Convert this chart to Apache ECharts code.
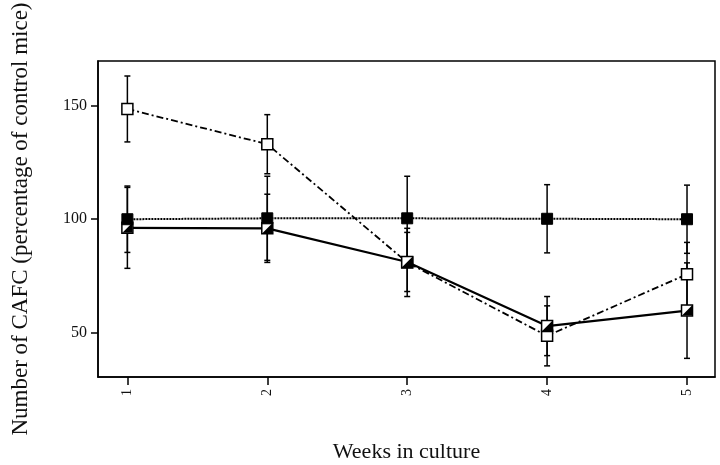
<!DOCTYPE html>
<html>
<head>
<meta charset="utf-8">
<script src="https://cdn.jsdelivr.net/npm/echarts@6/dist/echarts.min.js"></script>
<style>html,body{margin:0;padding:0;background:#fff;}#c{width:720px;height:465px;}</style>
</head>
<body>
<div id="c"></div>
<script>
const weeks = [1, 2, 3, 4, 5];
const xTicks = [1, 2, 3, 4, 5];
const yTicks = [50, 100, 150];
// filled square, dotted line
const valsA = [100, 100.4, 100.4, 100.2, 100];
const errA  = [14.6, 18.5, 18.5, 15, 15];
// open square, dash-dot line
const valsB = [148.5, 133, 81, 48.7, 75.8];
const errB  = [14.5, 13, 15, 13.2, 14];
// half-filled square, solid line
const valsC = [96.2, 96, 81.2, 53, 59.8];
const errC  = [17.8, 15, 13, 13, 21];

const pts = v => weeks.map((w, i) => [w, v[i]]);
const errs = (v, e) => weeks.map((w, i) => [w, v[i] - e[i], v[i] + e[i]]);

function errItem(params, api) {
  const x = api.value(0), lo = api.value(1), hi = api.value(2);
  const p1 = api.coord([x, lo]), p2 = api.coord([x, hi]);
  const w = 3;
  const st = { stroke: '#000', lineWidth: 1.5 };
  return { type: 'group', children: [
    { type: 'line', shape: { x1: p1[0], y1: p1[1], x2: p2[0], y2: p2[1] }, style: st },
    { type: 'line', shape: { x1: p1[0] - w, y1: p1[1], x2: p1[0] + w, y2: p1[1] }, style: st },
    { type: 'line', shape: { x1: p2[0] - w, y1: p2[1], x2: p2[0] + w, y2: p2[1] }, style: st }
  ]};
}

const font = 'Liberation Serif';
const chart = echarts.init(document.getElementById('c'));
chart.setOption({
  animation: false,
  backgroundColor: '#fff',
  grid: { left: 98, right: 5, top: 61, bottom: 88, show: true, borderColor: '#000', borderWidth: 1.5,
          backgroundColor: 'transparent', outerBoundsMode: 'none', containLabel: false },
  xAxis: {
    type: 'value', min: 0.79, max: 5.2,
    name: 'Weeks in culture', nameLocation: 'middle', nameGap: 64,
    nameTextStyle: { fontFamily: font, fontSize: 22, color: '#111' },
    axisLine: { show: true, lineStyle: { color: '#000', width: 1.5 } },
    axisTick: { show: true, length: 8, lineStyle: { color: '#000', width: 1.5 }, customValues: xTicks },
    axisLabel: { rotate: 90, fontFamily: font, fontSize: 14, color: '#111', margin: 12, customValues: xTicks },
    splitLine: { show: false }
  },
  yAxis: {
    type: 'value', min: 30.6, max: 169.6,
    name: 'Number of CAFC (percentage of control mice)', nameLocation: 'middle', nameGap: 66,
    nameTextStyle: { fontFamily: font, fontSize: 23, color: '#111' },
    axisLine: { show: true, lineStyle: { color: '#000', width: 1.5 } },
    axisTick: { show: true, length: 7, lineStyle: { color: '#000', width: 1.5 }, customValues: yTicks },
    axisLabel: { fontFamily: font, fontSize: 16, color: '#111', margin: 11, customValues: yTicks },
    splitLine: { show: false }
  },
  series: [
    { type: 'custom', renderItem: errItem, data: errs(valsB, errB), encode: { x: 0, y: [1, 2] }, z: 1 },
    { type: 'custom', renderItem: errItem, data: errs(valsC, errC), encode: { x: 0, y: [1, 2] }, z: 1 },
    { type: 'custom', renderItem: errItem, data: errs(valsA, errA), encode: { x: 0, y: [1, 2] }, z: 1 },
    { type: 'line', data: pts(valsB), symbol: 'rect', symbolSize: 11, showSymbol: true,
      lineStyle: { color: '#000', width: 1.8, type: [7, 3, 2, 3] },
      itemStyle: { color: '#fff', borderColor: '#000', borderWidth: 1.5 }, z: 3 },
    { type: 'line', data: pts(valsC), symbol: 'rect', symbolSize: 11, showSymbol: true,
      lineStyle: { color: '#000', width: 2.2, type: 'solid' },
      itemStyle: { color: '#fff', borderColor: '#000', borderWidth: 1.5 }, z: 4 },
    { type: 'scatter', data: pts(valsC), symbol: 'path://M10,0 L10,10 L0,10 Z', symbolSize: 10,
      itemStyle: { color: '#000', opacity: 1, borderWidth: 0 }, z: 5 },
    { type: 'line', data: pts(valsA), symbol: 'rect', symbolSize: 11, showSymbol: true,
      lineStyle: { color: '#000', width: 2, type: [2, 1] },
      itemStyle: { color: '#000', borderColor: '#000', borderWidth: 1 }, z: 6 }
  ]
});
</script>
</body>
</html>
